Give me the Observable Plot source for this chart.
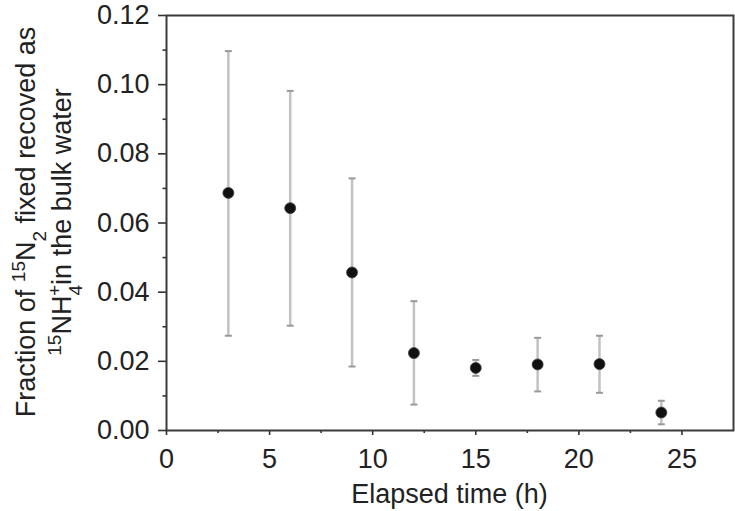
<!DOCTYPE html>
<html><head><meta charset="utf-8">
<script src="https://cdn.jsdelivr.net/npm/d3@7"></script>
<script src="https://cdn.jsdelivr.net/npm/@observablehq/plot@0.6"></script>
<style>body{margin:0;background:#fff;} svg{display:block;}</style>
</head><body><div id="chart"></div>
<script>
const hours = [3, 6, 9, 12, 15, 18, 21, 24];
const fraction = [0.0687, 0.0643, 0.0457, 0.0224, 0.0181, 0.0191, 0.0192, 0.0052];
const errLow = [0.0274, 0.0303, 0.0185, 0.0075, 0.0158, 0.0113, 0.0109, 0.0018];
const errHigh = [0.1097, 0.0982, 0.0729, 0.0374, 0.0204, 0.0268, 0.0274, 0.0086];
const xMajorTicks = [0, 5, 10, 15, 20, 25];
const xMinorTicks = [2.5, 7.5, 12.5, 17.5, 22.5];
const yMajorTicks = [0, 0.02, 0.04, 0.06, 0.08, 0.10, 0.12];
const yMinorTicks = [0.01, 0.03, 0.05, 0.07, 0.09, 0.11];
const xTitle = "Elapsed time (h)";

const data = hours.map((h, i) => ({h, v: fraction[i], lo: errLow[i], hi: errHigh[i]}));
const capSymbol = {draw(ctx) { ctx.moveTo(-3.5, 0); ctx.lineTo(3.5, 0); }};
const FONT = "Liberation Sans, Arial, sans-serif";
const FS = 27;

const svg = Plot.plot({
  width: 735, height: 511,
  marginLeft: 166, marginRight: 2, marginTop: 15, marginBottom: 81,
  style: {fontFamily: FONT, fontSize: FS + "px", color: "#222", background: "#fff"},
  x: {domain: [0, 27.5]},
  y: {domain: [0, 0.12]},
  marks: [
    Plot.axisX({ticks: xMajorTicks, tickSize: 5, tickPadding: 13, fontSize: FS, label: null, strokeWidth: 1.6, stroke: "#333"}),
    Plot.axisX({ticks: xMinorTicks, tickSize: 3, text: null, label: null, strokeWidth: 1.6, stroke: "#333"}),
    Plot.axisY({ticks: yMajorTicks, tickSize: 8, tickPadding: 9, fontSize: FS, tickFormat: d3.format(".2f"), label: null, strokeWidth: 1.6, stroke: "#333"}),
    Plot.axisY({ticks: yMinorTicks, tickSize: 3.5, text: null, label: null, strokeWidth: 1.6, stroke: "#333"}),
    Plot.ruleX(data, {x: "h", y1: "lo", y2: "hi", stroke: "#c2c2c2", strokeWidth: 2.5}),
    Plot.dot(data, {x: "h", y: "hi", symbol: capSymbol, stroke: "#9a9a9a", strokeWidth: 2, fill: "none"}),
    Plot.dot(data, {x: "h", y: "lo", symbol: capSymbol, stroke: "#9a9a9a", strokeWidth: 2, fill: "none"}),
    Plot.dot(data, {x: "h", y: "v", r: 5.5, fill: "#111", stroke: "#444", strokeWidth: 0.8}),
    Plot.frame({stroke: "#3a3a3a", strokeWidth: 2})
  ]
});

const s = d3.select(svg);
// x axis title
s.append("text")
  .attr("x", 449.5).attr("y", 503)
  .attr("text-anchor", "middle")
  .attr("font-family", FONT).attr("font-size", FS).attr("fill", "#222")
  .text(xTitle);

// y axis title (two lines with super/subscripts)
function yLine(x, parts) {
  const t = s.append("text")
    .attr("transform", `translate(${x},222) rotate(-90)`)
    .attr("text-anchor", "middle")
    .attr("font-family", FONT).attr("font-size", FS).attr("fill", "#222");
  for (const p of parts) {
    const ts = t.append("tspan").text(p.t);
    if (p.sup) ts.attr("baseline-shift", "super").attr("font-size", 19);
    if (p.sub) ts.attr("baseline-shift", "sub").attr("font-size", 19);
    if (p.dx) ts.attr("dx", p.dx);
  }
}
yLine(35, [
  {t: "Fraction of "}, {t: "15", sup: true}, {t: "N"}, {t: "2", sub: true}, {t: " fixed recoved as"}
]);
yLine(71, [
  {t: "15", sup: true}, {t: "NH"}, {t: "4", sub: true}, {t: "+", sup: true, dx: -11}, {t: "in the bulk water"}
]);

document.getElementById("chart").appendChild(svg);
</script>
</body></html>
